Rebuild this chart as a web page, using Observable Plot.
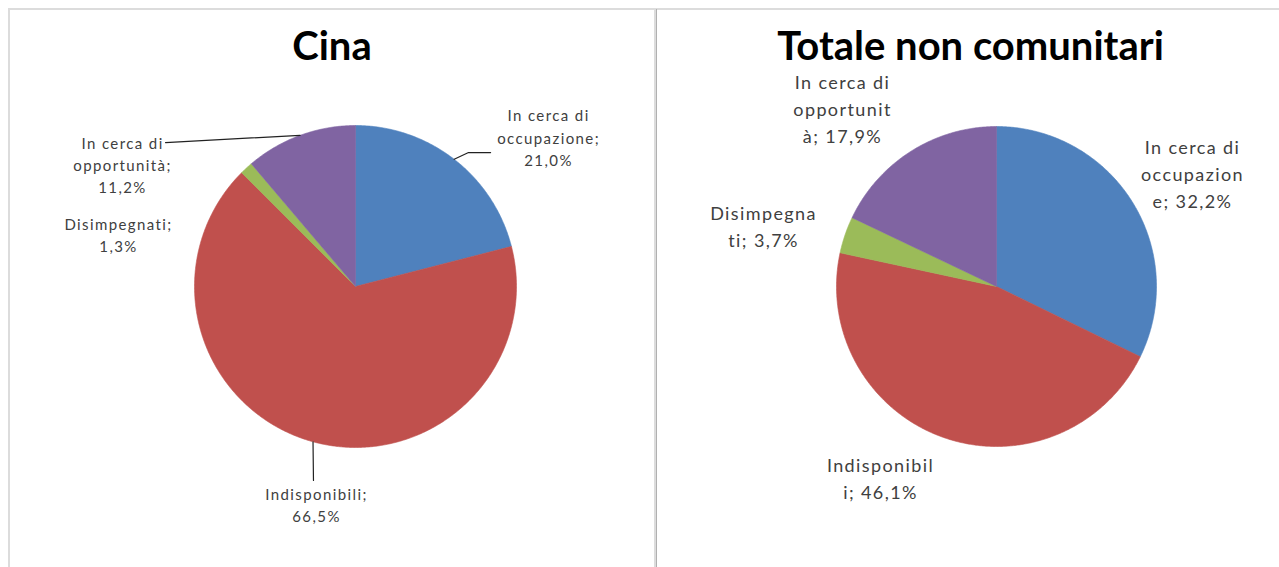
<!DOCTYPE html>
<html><head><meta charset="utf-8">
<script src="https://cdn.jsdelivr.net/npm/d3@7"></script>
<script src="https://cdn.jsdelivr.net/npm/@observablehq/plot@0.6"></script>
<style>
html,body{margin:0;padding:0;background:#fff;width:1279px;height:567px;overflow:hidden;font-family:Lato,"Open Sans",sans-serif;}
#frame{position:absolute;left:8px;top:8px;width:1300px;height:600px;border-top:2px solid #dcdcdc;border-left:2px solid #dcdcdc;}
#divider{position:absolute;left:654px;top:9px;width:2px;height:600px;background:#dcdcdc;border-right:1px solid #b0b0b0;}
.panel{position:absolute;top:10px;height:557px;}
.title{position:absolute;left:0;right:0;top:9px;font-weight:bold;color:#000;text-align:center;height:46px;line-height:52px;font-size:40px;overflow:visible;}
.panel svg{display:block;margin-top:52px;}
</style></head>
<body>
<div id="frame"></div>
<div id="divider"></div>
<div class="panel" id="p1" style="left:10px;width:644px"><div class="title">Cina</div></div>
<div class="panel" id="p2" style="left:658px;width:621px"><div class="title" style="padding-left:4px">Totale non comunitari</div></div>
<script>
// ---- data ----
const categories = ["In cerca di occupazione", "Indisponibili", "Disimpegnati", "In cerca di opportunità"];
const cinaValues = [21.0, 66.5, 1.3, 11.2];
const totaleValues = [32.2, 46.1, 3.7, 17.9];
const cinaLabels = ["In cerca di\noccupazione;\n21,0%", "Indisponibili;\n66,5%", "Disimpegnati;\n1,3%", "In cerca di\nopportunità;\n11,2%"];
const totaleLabels = ["In cerca di\noccupazion\ne; 32,2%", "Indisponibil\ni; 46,1%", "Disimpegna\nti; 3,7%", "In cerca di\nopportunit\nà; 17,9%"];
const colors = ["#4F81BD", "#C0504D", "#9BBB59", "#8064A2"];

// ---- layout (in units of pie radius, relative to the pie centre) ----
const layoutCina = {
  width: 644, height: 505, cx: 345, cy: 224, r: 161, fontSize: 15, lineHeight: 1.47, letterSpacing: "1.4px",
  labelPos: [[1.199, -0.932], [-0.242, 1.351], [-1.472, -0.329], [-1.447, -0.764]],
  leaders: [[[0.702, -0.832], [0.839, -0.832]], [[-0.261, 1.205]], null, [[-1.18, -0.894]]]
};
const layoutTotale = {
  width: 621, height: 505, cx: 338, cy: 224, r: 160, fontSize: 18, lineHeight: 1.5, letterSpacing: "1.4px",
  labelPos: [[1.225, -0.7125], [-0.725, 1.19], [-1.456, -0.384], [-0.9625, -1.12]],
  leaders: [null, null, null, null]
};

function pieChart(values, labels, L) {
  const pie = d3.pie().sort(null).startAngle(0).endAngle(2 * Math.PI)(values);
  const poly = [];
  pie.forEach((s, i) => {
    poly.push({cat: categories[i], x: 0, y: 0});
    const n = Math.max(4, Math.ceil((s.endAngle - s.startAngle) / (Math.PI / 360)));
    for (let k = 0; k <= n; k++) {
      const a = s.startAngle + (s.endAngle - s.startAngle) * k / n;
      poly.push({cat: categories[i], x: Math.sin(a), y: -Math.cos(a)});
    }
    poly.push({cat: categories[i], x: 0, y: 0});
  });
  const texts = pie.map((s, i) => ({x: L.labelPos[i][0], y: L.labelPos[i][1], t: labels[i]}));
  const leaderPts = [];
  pie.forEach((s, i) => {
    if (!L.leaders[i]) return;
    const mid = (s.startAngle + s.endAngle) / 2;
    leaderPts.push({id: i, x: Math.sin(mid), y: -Math.cos(mid)});
    L.leaders[i].forEach(p => leaderPts.push({id: i, x: p[0], y: p[1]}));
  });
  return Plot.plot({
    width: L.width, height: L.height,
    margin: 0,
    x: {domain: [-L.cx / L.r, (L.width - L.cx) / L.r], range: [0, L.width], axis: null},
    y: {domain: [-L.cy / L.r, (L.height - L.cy) / L.r], range: [0, L.height], axis: null},
    color: {domain: categories, range: colors},
    style: {fontFamily: "Lato, 'Open Sans', sans-serif", background: "transparent", letterSpacing: L.letterSpacing},
    marks: [
      Plot.line(poly, {x: "x", y: "y", z: "cat", fill: "cat", stroke: "cat", strokeWidth: 0.6, curve: "linear"}),
      Plot.line(leaderPts, {x: "x", y: "y", z: "id", stroke: "#222", strokeWidth: 1.2}),
      Plot.text(texts, {x: "x", y: "y", text: "t", fill: "#404040", fontSize: L.fontSize, lineHeight: L.lineHeight, textAnchor: "middle", lineAnchor: "middle"})
    ]
  });
}

document.getElementById("p1").appendChild(pieChart(cinaValues, cinaLabels, layoutCina));
document.getElementById("p2").appendChild(pieChart(totaleValues, totaleLabels, layoutTotale));
</script>
</body></html>
